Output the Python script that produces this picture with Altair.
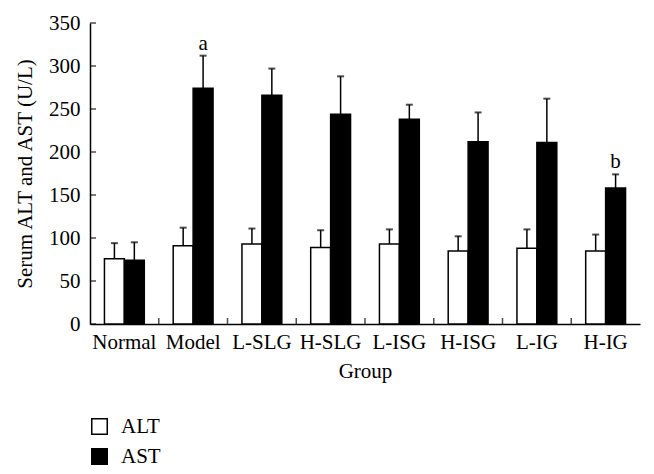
import altair as alt
import pandas as pd

groups = ["Normal", "Model", "L-SLG", "H-SLG", "L-ISG", "H-ISG", "L-IG", "H-IG"]
series = ["ALT", "AST"]
alt_mean = [76, 91, 93, 89, 93, 85, 88, 85]
alt_err = [18, 21, 18, 20, 17, 17, 22, 19]
ast_mean = [74, 274, 266, 244, 238, 212, 211, 158]
ast_err = [21, 38, 31, 44, 17, 34, 51, 16]
ann_group = ["Model", "H-IG"]
ann_text = ["a", "b"]
y_ticks = [0, 50, 100, 150, 200, 250, 300, 350]

FONT = "Liberation Serif"

rows = []
for i, g in enumerate(groups):
    rows.append({"group": g, "series": "ALT", "mean": alt_mean[i], "top": alt_mean[i] + alt_err[i]})
    rows.append({"group": g, "series": "AST", "mean": ast_mean[i], "top": ast_mean[i] + ast_err[i]})
df = pd.DataFrame(rows)

ann_rows = []
for g, t in zip(ann_group, ann_text):
    i = groups.index(g)
    ann_rows.append({"group": g, "series": "AST", "top": ast_mean[i] + ast_err[i], "label": t})
ann_df = pd.DataFrame(ann_rows)

xscale = alt.Scale(domain=groups, paddingInner=0, paddingOuter=0)
xoff_scale = alt.Scale(domain=series, paddingInner=0, paddingOuter=0.725)
yscale = alt.Scale(domain=[0, 350], nice=False)

X = alt.X("group:N", scale=xscale, sort=groups,
          axis=alt.Axis(title="Group", labelAngle=0, tickSize=0, labelPadding=7,
                        labelFont=FONT, labelFontSize=21, labelColor="black",
                        titleFont=FONT, titleFontSize=21, titleFontWeight="normal",
                        titleColor="black", titlePadding=8,
                        domainColor="black", domainWidth=1.5))
XO = alt.XOffset("series:N", scale=xoff_scale)
Y = alt.Y("mean:Q", scale=yscale,
          axis=alt.Axis(title="Serum ALT and AST (U/L)", values=y_ticks, tickSize=0,
                        labelPadding=10, grid=False,
                        labelFont=FONT, labelFontSize=21, labelColor="black",
                        titleFont=FONT, titleFontSize=21, titleFontWeight="normal",
                        titleColor="black", titlePadding=13,
                        domainColor="black", domainWidth=1.5))

base = alt.Chart(df)

bars = base.mark_bar(stroke="black", strokeWidth=1.5).encode(
    x=X, xOffset=XO, y=Y,
    fill=alt.Fill("series:N", scale=alt.Scale(domain=series, range=["white", "black"]),
                  legend=alt.Legend(title=None, orient="none", legendX=-1, legendY=393,
                                    direction="vertical",
                                    symbolType="square", symbolSize=240,
                                    symbolStrokeColor="black", symbolStrokeWidth=1.5,
                                    labelFont=FONT, labelFontSize=21, labelColor="black",
                                    labelOffset=11, rowPadding=7, padding=0)),
)

errs = base.mark_rule(color="black", strokeWidth=1.5).encode(
    x=alt.X("group:N", scale=xscale, sort=groups),
    xOffset=XO,
    y=alt.Y("mean:Q", scale=yscale),
    y2="top:Q",
)

caps = base.mark_tick(orient="horizontal", color="black", size=7, thickness=2).encode(
    x=alt.X("group:N", scale=xscale, sort=groups),
    xOffset=XO,
    y=alt.Y("top:Q", scale=yscale),
)

labels = alt.Chart(ann_df).mark_text(font=FONT, fontSize=21, color="black",
                                     baseline="alphabetic", dy=-6).encode(
    x=alt.X("group:N", scale=xscale, sort=groups),
    xOffset=XO,
    y=alt.Y("top:Q", scale=yscale),
    text="label:N",
)

ytick_df = pd.DataFrame({"t": y_ticks})
yticks = alt.Chart(ytick_df).mark_tick(orient="horizontal", color="black", size=6, thickness=1.5).encode(
    y=alt.Y("t:Q", scale=yscale),
    x=alt.value(3),
)

xtick_df = pd.DataFrame({"group": groups[1:]})
xticks = alt.Chart(xtick_df).mark_tick(orient="vertical", color="black", size=6, thickness=1.5).encode(
    x=alt.X("group:N", scale=xscale, sort=groups, bandPosition=0),
    y=alt.value(298),
)

chart = alt.layer(bars, errs, caps, labels, yticks, xticks).properties(
    width=550, height=301,
    autosize=alt.AutoSizeParams(type="none"),
    padding={"left": 82, "top": 15, "right": 6, "bottom": 142},
    background="white",
).configure_view(stroke=None)

chart.save("out.html", embed_options={"renderer": "svg", "actions": False})
